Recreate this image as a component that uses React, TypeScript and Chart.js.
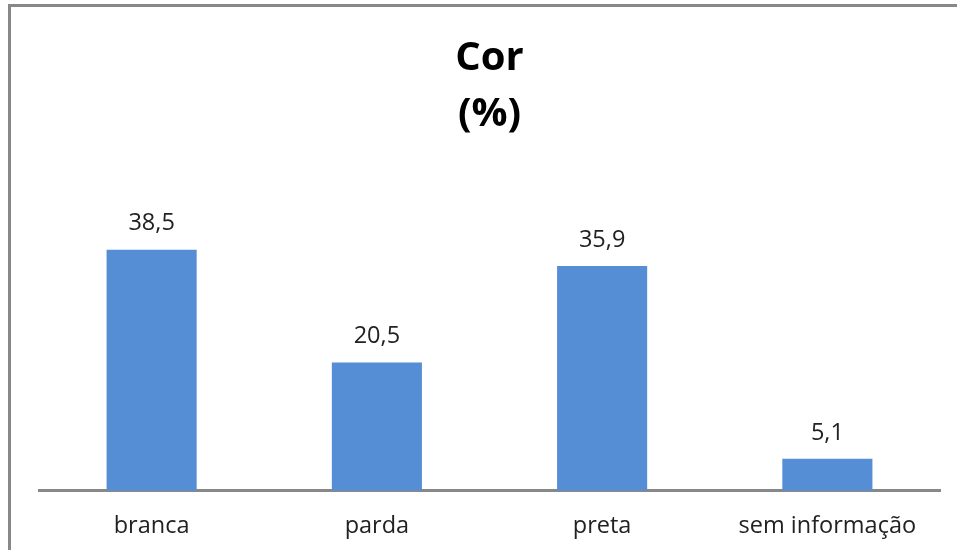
import React, { useEffect, useRef } from "react";
import { Chart, registerables } from "chart.js";

Chart.register(...registerables);

const categories = ["branca", "parda", "preta", "sem informação"];
const values = [38.5, 20.5, 35.9, 5.1];
const valueLabels = ["38,5", "20,5", "35,9", "5,1"];
const titleLines = ["Cor", "(%)"];

const FONT = "'Open Sans', 'Noto Sans', sans-serif";
const CANVAS_H = 560;

const framePlugin = {
  id: "frame",
  beforeDraw(chart: any) {
    const ctx = chart.ctx;
    ctx.save();
    ctx.fillStyle = "#ffffff";
    ctx.fillRect(0, 0, chart.width, chart.height);
    ctx.strokeStyle = "#888888";
    ctx.lineWidth = 3;
    ctx.beginPath();
    ctx.moveTo(9.5, chart.height + 10);
    ctx.lineTo(9.5, 5.5);
    ctx.lineTo(chart.width + 10, 5.5);
    ctx.stroke();
    ctx.restore();
  },
};

const valueLabelPlugin = {
  id: "valueLabels",
  afterDatasetsDraw(chart: any) {
    const ctx = chart.ctx;
    const meta = chart.getDatasetMeta(0);
    ctx.save();
    ctx.font = `23.5px ${FONT}`;
    ctx.fillStyle = "#222222";
    ctx.textAlign = "center";
    ctx.textBaseline = "middle";
    meta.data.forEach((bar: any, i: number) => {
      ctx.fillText(valueLabels[i], bar.x, bar.y - 26);
    });
    ctx.restore();
  },
};

export default function App() {
  const ref = useRef<HTMLCanvasElement>(null);
  useEffect(() => {
    if (!ref.current) return;
    const chart = new Chart(ref.current, {
      type: "bar",
      data: {
        labels: categories,
        datasets: [
          {
            data: values,
            backgroundColor: "#558ED5",
            borderWidth: 0,
            categoryPercentage: 1,
            barPercentage: 0.4,
          },
        ],
      },
      options: {
        animation: false,
        responsive: false,
        devicePixelRatio: 1,
        layout: { padding: { left: 39, right: 17, top: 0, bottom: 7 } },
        plugins: {
          legend: { display: false },
          tooltip: { enabled: false },
          title: {
            display: true,
            text: titleLines,
            color: "#000000",
            font: { family: FONT, size: 40, weight: "bold", lineHeight: 1.4 },
            padding: { top: 31, bottom: 66 },
          },
        },
        scales: {
          x: {
            grid: { display: false },
            border: { display: true, color: "#888888", width: 3 },
            ticks: {
              color: "#222222",
              font: { family: FONT, size: 23.5 },
              padding: 13,
              maxRotation: 0,
            },
          },
          y: {
            display: false,
            min: 0,
            max: 45,
          },
        },
      },
      plugins: [framePlugin, valueLabelPlugin],
    });
    return () => chart.destroy();
  }, []);
  return (
    <div style={{ position: "absolute", left: 0, top: 0, width: 957, height: 550, overflow: "hidden" }}>
      <canvas ref={ref} width={957} height={CANVAS_H} style={{ width: 957, height: CANVAS_H, display: "block" }} />
    </div>
  );
}
